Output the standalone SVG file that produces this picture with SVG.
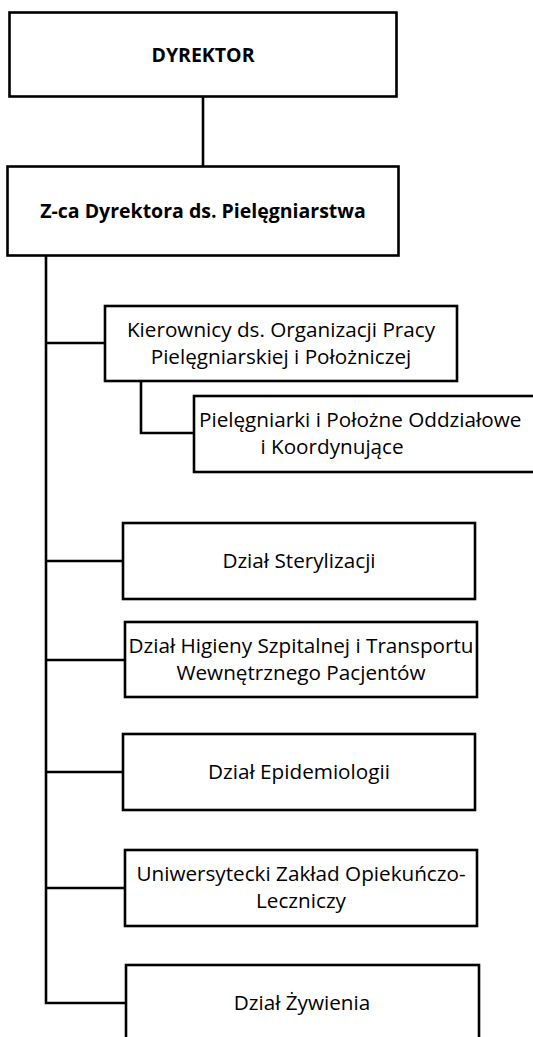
<svg xmlns="http://www.w3.org/2000/svg" width="533" height="1037" viewBox="0 0 533 1037">
<style>
.box{fill:#fff;stroke:#000;stroke-width:2.6}
.ln{fill:none;stroke:#000;stroke-width:2.6}
text{font-family:"Open Sans","Liberation Sans",sans-serif;font-size:20.7px;fill:#000;text-anchor:middle}
.b{font-weight:bold;font-size:19.5px}
</style>
<rect width="533" height="1037" fill="#fff"/>
<g id="connectors">
<path class="ln" d="M203,96.5V166.5"/>
<path class="ln" d="M46,255.5V1003H126"/>
<path class="ln" d="M46,343H105"/>
<path class="ln" d="M141,381V433H194"/>
<path class="ln" d="M46,561H123"/>
<path class="ln" d="M46,660H125"/>
<path class="ln" d="M46,772H123"/>
<path class="ln" d="M46,888H125"/>
</g>
<g id="dyrektor">
<rect class="box" x="9.5" y="12.5" width="387" height="84"/>
<text class="b" x="203" y="62">DYREKTOR</text>
</g>
<g id="zca">
<rect class="box" x="7.5" y="166.5" width="391" height="89"/>
<text class="b" x="203" y="218">Z-ca Dyrektora ds. Pielęgniarstwa</text>
</g>
<g id="kierownicy">
<rect class="box" x="105" y="306" width="352" height="75"/>
<text x="281" y="337">Kierownicy ds. Organizacji Pracy</text>
<text x="281" y="364">Pielęgniarskiej i Położniczej</text>
</g>
<g id="pielegniarki">
<rect class="box" x="194" y="396" width="360" height="76"/>
<text x="199" y="427" style="text-anchor:start">Pielęgniarki i Położne Oddziałowe</text>
<text x="332" y="454">i Koordynujące</text>
</g>
<g id="sterylizacja">
<rect class="box" x="123" y="523" width="352" height="76"/>
<text x="299" y="568">Dział Sterylizacji</text>
</g>
<g id="higiena">
<rect class="box" x="125" y="622" width="352" height="75"/>
<text x="301" y="653">Dział Higieny Szpitalnej i Transportu</text>
<text x="301" y="680">Wewnętrznego Pacjentów</text>
</g>
<g id="epidemiologia">
<rect class="box" x="123" y="734" width="352" height="76"/>
<text x="299" y="779">Dział Epidemiologii</text>
</g>
<g id="uzol">
<rect class="box" x="125" y="850" width="352" height="76"/>
<text x="301" y="881">Uniwersytecki Zakład Opiekuńczo-</text>
<text x="301" y="908">Leczniczy</text>
</g>
<g id="zywienie">
<rect class="box" x="126" y="965" width="353" height="90"/>
<text x="302" y="1010">Dział Żywienia</text>
</g>
</svg>
